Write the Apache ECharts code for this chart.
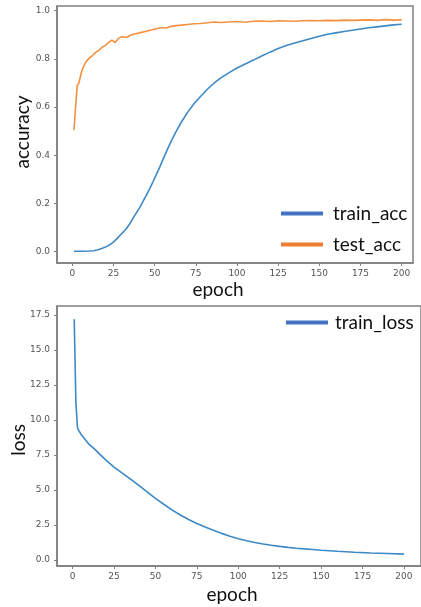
<!DOCTYPE html>
<html>
<head>
<meta charset="utf-8">
<script src="https://cdn.jsdelivr.net/npm/echarts@6/dist/echarts.min.js"></script>
<style>
  html, body { margin: 0; padding: 0; background: #fff; }
  #chart { width: 421px; height: 607px; }
</style>
</head>
<body>
<div id="chart"></div>
<script>
const accEpochs = [1, 5, 10, 13, 15, 17, 19, 21, 23, 25, 27, 29, 31, 33, 35, 37, 39, 41, 43, 45, 47, 49, 51, 53, 55, 57, 60, 63, 66, 70, 74, 78, 82, 86, 90, 95, 100, 105, 110, 115, 120, 125, 130, 135, 140, 145, 150, 155, 160, 165, 170, 175, 180, 185, 190, 195, 200]
const trainAcc = [0.002, 0.002, 0.003, 0.004, 0.007, 0.011, 0.016, 0.022, 0.03, 0.04, 0.053, 0.068, 0.082, 0.097, 0.117, 0.14, 0.162, 0.184, 0.21, 0.235, 0.262, 0.29, 0.32, 0.35, 0.382, 0.413, 0.458, 0.498, 0.535, 0.578, 0.615, 0.645, 0.674, 0.699, 0.72, 0.742, 0.762, 0.779, 0.795, 0.812, 0.828, 0.843, 0.856, 0.866, 0.875, 0.885, 0.894, 0.902, 0.908, 0.914, 0.919, 0.924, 0.929, 0.933, 0.937, 0.941, 0.944]

const testEpochs = [1, 2, 3, 4, 5, 6, 7, 8, 10, 12, 14, 16, 18, 20, 22, 24, 26, 28, 30, 33, 36, 39, 42, 45, 48, 51, 54, 57, 60, 63, 66, 70, 74, 78, 82, 86, 90, 95, 100, 105, 110, 115, 120, 125, 130, 135, 140, 145, 150, 155, 160, 165, 170, 175, 180, 185, 190, 195, 200]
const testAcc = [0.505, 0.6, 0.69, 0.7, 0.73, 0.755, 0.77, 0.785, 0.802, 0.812, 0.826, 0.835, 0.848, 0.855, 0.868, 0.878, 0.868, 0.885, 0.892, 0.89, 0.9, 0.905, 0.91, 0.915, 0.92, 0.925, 0.93, 0.928, 0.935, 0.938, 0.94, 0.943, 0.946, 0.947, 0.95, 0.953, 0.951, 0.953, 0.955, 0.952, 0.956, 0.957, 0.955, 0.958, 0.957, 0.956, 0.958, 0.959, 0.958, 0.96, 0.959, 0.961, 0.96, 0.961, 0.962, 0.96, 0.963, 0.961, 0.962]

const lossEpochs = [1, 2, 3, 5, 7, 10, 13, 16, 20, 25, 30, 35, 40, 45, 50, 55, 60, 65, 70, 75, 80, 85, 90, 95, 100, 105, 110, 115, 120, 125, 130, 135, 140, 145, 150, 160, 170, 180, 190, 200]
const trainLoss = [17.2, 11.2, 9.4, 9.0, 8.7, 8.25, 7.95, 7.6, 7.15, 6.63, 6.2, 5.78, 5.33, 4.87, 4.4, 3.98, 3.58, 3.21, 2.89, 2.6, 2.35, 2.12, 1.9, 1.69, 1.52, 1.38, 1.25, 1.14, 1.05, 0.97, 0.9, 0.84, 0.79, 0.75, 0.7, 0.62, 0.55, 0.5, 0.46, 0.42]

// tick labels
const epochTicks = [0, 25, 50, 75, 100, 125, 150, 175, 200]
const accTicks = [0, 0.2, 0.4, 0.6, 0.8, 1.0]
const lossTicks = [0, 2.5, 5, 7.5, 10, 12.5, 15, 17.5]

const pairs = (xs, ys) => xs.map((x, i) => [x, ys[i]])

const tickFont = { fontSize: 9, color: '#555', fontFamily: 'DejaVu Sans' }
const frameColor = '#7f7f7f'
const titleFont = { fontSize: 19, fill: '#111', fontFamily: 'Lato' }
const legendFont = { fontSize: 19, color: '#111', fontFamily: 'Lato', lineHeight: 21 }

const xAxisBase = (gridIndex, min, max) => ({
  type: 'value',
  gridIndex,
  min,
  max,
  splitLine: { show: false },
  axisLine: { onZero: false, lineStyle: { color: frameColor, width: 1.5 } },
  axisTick: { customValues: epochTicks, length: 3, lineStyle: { color: frameColor } },
  axisLabel: { customValues: epochTicks, margin: 6, ...tickFont },
})

const yAxisBase = (gridIndex, min, max, ticks) => ({
  type: 'value',
  gridIndex,
  min,
  max,
  splitLine: { show: false },
  axisLine: { onZero: false, lineStyle: { color: frameColor, width: 1.5 } },
  axisTick: { customValues: ticks, length: 3, lineStyle: { color: frameColor } },
  axisLabel: { customValues: ticks, margin: 7, formatter: (v) => v.toFixed(1), ...tickFont },
})

const chart = echarts.init(document.getElementById('chart'))

chart.setOption({
  animation: false,
  grid: [
    { left: 57, top: 6, width: 356, height: 257, show: true, borderColor: frameColor, borderWidth: 1.5 },
    { left: 57, top: 306, width: 367, height: 260, show: true, borderColor: frameColor, borderWidth: 1.5 },
  ],
  xAxis: [
    xAxisBase(0, -9.3, 206.9),
    xAxisBase(1, -9.4, 210.3),
  ],
  yAxis: [
    yAxisBase(0, -0.047, 1.0195, accTicks),
    yAxisBase(1, -0.43, 18.14, lossTicks),
  ],
  legend: [
    {
      orient: 'vertical',
      left: 281,
      top: 203,
      padding: 0,
      icon: 'rect',
      itemWidth: 42,
      itemHeight: 4,
      itemGap: 10,
      textStyle: { ...legendFont, padding: [0, 0, 0, 5] },
      data: [
        { name: 'train_acc', itemStyle: { color: '#4472c4' } },
        { name: 'test_acc', itemStyle: { color: '#ed7d31' } },
      ],
    },
    {
      left: 286,
      top: 312,
      padding: 0,
      icon: 'rect',
      itemWidth: 42,
      itemHeight: 4,
      textStyle: { ...legendFont, padding: [0, 0, 0, 2] },
      data: [
        { name: 'train_loss', itemStyle: { color: '#4472c4' } },
      ],
    },
  ],
  series: [
    {
      name: 'train_acc',
      type: 'line',
      xAxisIndex: 0,
      yAxisIndex: 0,
      showSymbol: false,
      data: pairs(accEpochs, trainAcc),
      lineStyle: { color: '#3d89c6', width: 1.6 },
      itemStyle: { color: '#3d89c6' },
    },
    {
      name: 'test_acc',
      type: 'line',
      xAxisIndex: 0,
      yAxisIndex: 0,
      showSymbol: false,
      data: pairs(testEpochs, testAcc),
      lineStyle: { color: '#f5913e', width: 1.6 },
      itemStyle: { color: '#f5913e' },
    },
    {
      name: 'train_loss',
      type: 'line',
      xAxisIndex: 1,
      yAxisIndex: 1,
      showSymbol: false,
      data: pairs(lossEpochs, trainLoss),
      lineStyle: { color: '#3d89c6', width: 1.6 },
      itemStyle: { color: '#3d89c6' },
    },
  ],
  graphic: [
    { type: 'text', x: 218, y: 290, style: { text: 'epoch', align: 'center', verticalAlign: 'middle', ...titleFont } },
    { type: 'text', x: 232, y: 595, style: { text: 'epoch', align: 'center', verticalAlign: 'middle', ...titleFont } },
    { type: 'text', x: 23, y: 132, rotation: Math.PI / 2, style: { text: 'accuracy', align: 'center', verticalAlign: 'middle', ...titleFont } },
    { type: 'text', x: 19, y: 440, rotation: Math.PI / 2, style: { text: 'loss', align: 'center', verticalAlign: 'middle', ...titleFont } },
  ],
})
</script>
</body>
</html>
